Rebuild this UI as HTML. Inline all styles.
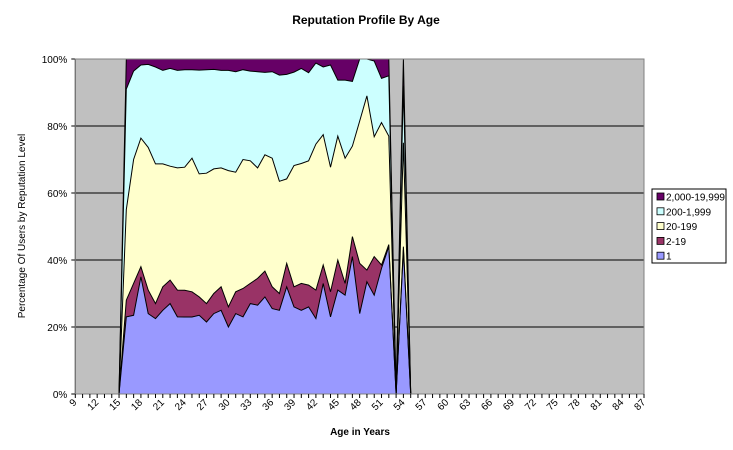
<!DOCTYPE html>
<html><head><meta charset="utf-8"><style>
body{margin:0;background:#fff;}
svg{display:block;font-family:"Liberation Sans",Arial,sans-serif;}
</style></head><body>
<svg id="chart" width="733" height="450">
<text x="366" y="24" text-anchor="middle" font-size="12" font-weight="bold">Reputation Profile By Age</text>
<text transform="translate(25,226) rotate(-90)" text-anchor="middle" font-size="10">Percentage Of Users by Reputation Level</text>
<text x="360" y="435" text-anchor="middle" font-size="10" font-weight="bold">Age in Years</text>
<g id="plot"></g>
<g>
<rect x="652" y="189" width="74" height="74" fill="#fff" stroke="#000"/>
<g id="legend"></g>
</g>
</svg>
<script>
const categories = [];
for (let a = 9; a <= 87; a++) categories.push(a);
const dataAges = [15,16,17,18,19,20,21,22,23,24,25,26,27,28,29,30,31,32,33,34,35,36,37,38,39,40,41,42,43,44,45,46,47,48,49,50,51,52,53,54,55];
const rep1 = [0,23,23.5,35,24,22.5,25,27,23,23,23,23.5,21.5,24,25,20,24,23,27,26.5,29,25.5,25,32,26,25,26,22.5,33,23,31,29.5,41,24,33.5,29.5,37.5,44,0,43,0];
const rep2_19 = [0,5,9.5,3,7,4.5,7,7,8,8,7.5,5.5,5.5,6,7,6,6.5,8.5,6,8,7.7,6.5,5,7,6,8,6.5,8.5,5.5,7.5,9,3.5,6,15,3.5,11.5,1,0.6,0,1,0];
const rep20_199 = [0,27,37,38.4,42.6,41.7,36.7,34,36.5,36.7,39.9,36.7,38.9,37.2,35.5,40.7,35.7,38.5,36.6,33,34.7,38.4,33.5,25.2,36.2,35.8,37.1,43.6,38.9,37.2,37,37.4,27,42.5,52,35.8,42.5,32.4,0,31,0];
const rep200_1999 = [0,36,26.4,21.8,24.8,28.9,27.9,29.2,29.1,29.1,26.4,31,30.9,29.7,29.1,29.9,30,26.8,26.8,28.7,24.6,25.8,31.7,31.2,27.9,28.4,26.3,24.2,20.2,30.5,16.7,23.3,19.3,18.5,11,22.6,13.2,18,0,17,0];
const rep2000plus = [0,9,3.6,1.8,1.6,2.4,3.4,2.8,3.4,3.2,3.2,3.3,3.2,3.1,3.4,3.4,3.8,3.2,3.6,3.8,4,3.8,4.8,4.6,3.9,2.8,4.1,1.2,2.4,1.8,6.3,6.3,6.7,0,0,0.6,5.8,5,0,8,0];
const yTicks = [0,20,40,60,80,100];
const seriesNames = ["1","2-19","20-199","200-1,999","2,000-19,999"];
const seriesColors = ["#9999FF","#993366","#FFFFCC","#CCFFFF","#660066"];

const NS = "http://www.w3.org/2000/svg";
const L = 75.3, R = 644, T = 59, B = 394;
const step = (R - L) / 78;
function xOf(age){ return L + (categories.indexOf(age) >= 0 ? categories.indexOf(age) : age - categories[0]) * step; }
function yOf(p){ return B - p / 100 * (B - T); }
function mk(tag, attrs, parent){ const e = document.createElementNS(NS, tag); for (const k in attrs) e.setAttribute(k, attrs[k]); parent.appendChild(e); return e; }

const plot = document.getElementById('plot');
const bg = mk('rect', {x:L, y:T, width:R-L, height:B-T, fill:'#C0C0C0'}, plot);


yTicks.forEach(t => {
  const g = mk('line', {x1:L-4, x2:R, y1:yOf(t), y2:yOf(t), stroke:'#000', 'stroke-width':1}, plot);
  
  
  const lb = mk('text', {x:L-8, y:yOf(t)+4, 'text-anchor':'end', 'font-size':10}, plot);
  lb.textContent = t + '%';
  
  
});

const series = [rep1, rep2_19, rep20_199, rep200_1999, rep2000plus];
const totals = dataAges.map(() => 0);
const cum = series.map(s => s.map((v, i) => (totals[i] += v)));
const norm = cum.map(c => c.map((v, i) => { const tot = cum[4][i]; return tot > 0 ? v / tot * 100 : 0; }));
for (let k = 4; k >= 0; k--) {
  const pts = dataAges.map((a, i) => xOf(a).toFixed(1) + ',' + yOf(norm[k][i]).toFixed(1));
  const poly = pts.concat([xOf(dataAges[dataAges.length-1]).toFixed(1) + ',' + B, xOf(dataAges[0]).toFixed(1) + ',' + B]);
  const p = mk('polygon', {points: poly.join(' '), fill: seriesColors[k], stroke:'none'}, plot);
  
  
}
for (let k = 0; k < 5; k++) {
  const pts = dataAges.map((a, i) => xOf(a).toFixed(1) + ',' + yOf(norm[k][i]).toFixed(1));
  const l = mk('polyline', {points: pts.join(' '), fill:'none', stroke:'#000', 'stroke-width':1}, plot);
  
  
}
const ax = mk('line', {x1:L, x2:R, y1:B, y2:B, stroke:'#000'}, plot);


const ay = mk('line', {x1:L, x2:L, y1:T, y2:B, stroke:'#000'}, plot);


const bd = mk('rect', {x:L, y:T, width:R-L, height:B-T, fill:'none', stroke:'#808080'}, plot);


categories.forEach((a, i) => {
  const tk = mk('line', {x1:xOf(a), x2:xOf(a), y1:B, y2:B+4, stroke:'#000'}, plot);
  
  
  if (i % 3 === 0) {
    const tx = xOf(a) + 2, ty = B + 9;
    const lb = mk('text', {x:tx, y:ty, 'text-anchor':'end', 'font-size':10, transform:'rotate(-45 ' + tx + ' ' + ty + ')'}, plot);
    lb.textContent = a;
    
    
  }
});

const leg = document.getElementById('legend');
for (let k = 4; k >= 0; k--) {
  const y = 197 + (4 - k) * 14.8;
  const sw = mk('rect', {x:657, y:y-4, width:7, height:7, fill:seriesColors[k], stroke:'#000', 'stroke-width':0.8}, leg);
  
  
  const t = mk('text', {x:666, y:y+3.5, 'font-size':10}, leg);
  t.textContent = seriesNames[k];
  
  
}
</script>
</body></html>
